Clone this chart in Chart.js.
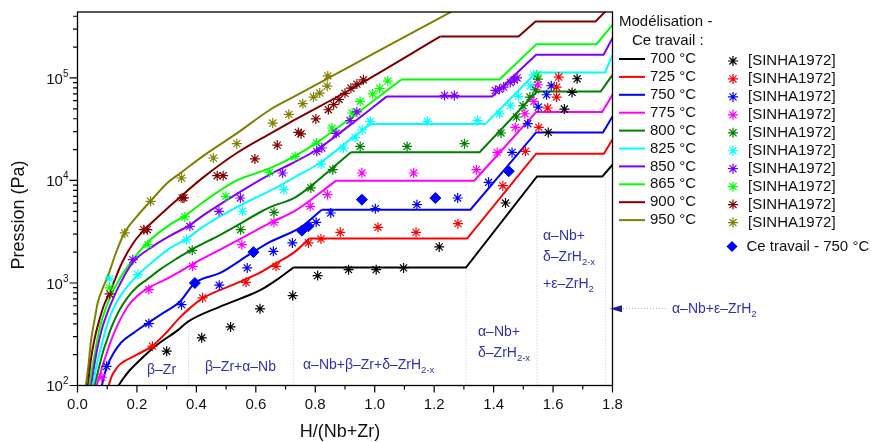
<!DOCTYPE html>
<html>
<head>
<meta charset="utf-8">
<script src="https://cdn.jsdelivr.net/npm/chart.js@4/dist/chart.umd.min.js"></script>
<style>
  html, body { margin: 0; padding: 0; background: #fff; }
  #wrap { width: 871px; height: 442px; }
</style>
</head>
<body>
<div id="wrap"><canvas id="chart" width="871" height="442"></canvas></div>
<script>
// Temperatures of the model curves and of the SINHA1972 points
const temperatures = ["700 °C", "725 °C", "750 °C", "775 °C", "800 °C", "825 °C", "850 °C", "865 °C", "900 °C", "950 °C"];
const lineColors = ["#000000", "#ff0000", "#0000ff", "#ff00ff", "#008000", "#00ffff", "#8000ff", "#00ff00", "#800000", "#808000"];

// Model curves: [H/(Nb+Zr), pressure in Pa]
const model700 = [[0.138,100],[0.155,118],[0.175,140],[0.2,166],[0.24,214],[0.277,261],[0.338,347],[0.373,422],[0.48,589],[0.55,708],[0.615,851],[0.67,1072],[0.726,1413],[1.307,1413],[1.546,10960],[1.766,10960],[1.8,14260]];
const model725 = [[0.105,100],[0.115,123],[0.13,145],[0.14,158],[0.2,200],[0.253,245],[0.3,331],[0.34,447],[0.38,575],[0.42,708],[0.524,964],[0.614,1259],[0.648,1445],[0.73,2000],[0.78,2710],[1.311,2710],[1.543,18240],[1.771,18240],[1.8,25120]];
const model750 = [[0.082,100],[0.09,126],[0.1,155],[0.12,204],[0.147,263],[0.192,331],[0.237,407],[0.29,513],[0.345,661],[0.395,1000],[0.48,1253],[0.586,1963],[0.648,2512],[0.749,3467],[0.822,5188],[1.322,5188],[1.543,29440],[1.768,29440],[1.8,42170]];
const model775 = [[0.064,100],[0.075,126],[0.085,158],[0.1,214],[0.113,275],[0.14,417],[0.169,589],[0.2,741],[0.237,891],[0.3,1096],[0.338,1259],[0.384,1514],[0.48,2118],[0.56,2818],[0.648,3855],[0.73,5012],[0.87,9954],[1.335,9954],[1.543,46450],[1.765,46450],[1.8,68550]];
const model800 = [[0.058,100],[0.07,141],[0.085,209],[0.1,282],[0.113,363],[0.14,537],[0.169,724],[0.2,912],[0.232,1072],[0.282,1380],[0.338,1758],[0.384,2118],[0.48,2951],[0.536,3631],[0.614,4898],[0.648,5495],[0.73,6761],[0.783,8710],[0.92,18880],[1.353,18880],[1.546,73790],[1.76,73790],[1.8,107200]];
const model825 = [[0.052,100],[0.06,135],[0.07,186],[0.08,240],[0.095,355],[0.113,501],[0.135,676],[0.158,851],[0.203,1202],[0.25,1585],[0.311,2188],[0.367,2692],[0.423,3548],[0.536,5495],[0.648,7943],[0.73,10720],[0.82,15140],[0.917,25120],[0.985,35480],[1.372,35480],[1.543,113200],[1.775,113200],[1.8,168300]];
const model850 = [[0.046,100],[0.055,148],[0.068,240],[0.085,380],[0.102,525],[0.113,631],[0.136,891],[0.186,1585],[0.25,2239],[0.311,2884],[0.378,3673],[0.423,4571],[0.536,7413],[0.648,11480],[0.73,15140],[0.805,19950],[0.917,34670],[1.041,66070],[1.395,66070],[1.543,168300],[1.77,168300],[1.8,244900]];
const model865 = [[0.04,100],[0.048,141],[0.057,195],[0.068,295],[0.08,417],[0.095,562],[0.113,759],[0.14,1072],[0.169,1445],[0.237,2512],[0.311,3715],[0.361,4500],[0.423,6166],[0.536,10000],[0.648,13180],[0.732,17380],[0.805,23440],[1.09,96600],[1.42,96600],[1.544,213800],[1.746,213800],[1.8,329600]];
const model900 = [[0.035,100],[0.045,178],[0.057,281],[0.074,440],[0.09,617],[0.108,800],[0.15,1585],[0.19,2512],[0.226,3311],[0.311,5623],[0.338,6607],[0.423,10720],[0.536,18540],[0.65,28840],[0.73,38900],[0.917,76740],[1.221,254100],[1.484,254100],[1.541,355600],[1.743,355600],[1.8,525000]];
const model950 = [[0.028,100],[0.035,141],[0.046,281],[0.058,447],[0.068,640],[0.085,891],[0.102,1161],[0.13,1995],[0.158,3076],[0.2,4467],[0.243,6166],[0.304,9550],[0.35,12020],[0.423,17380],[0.536,28840],[0.648,48980],[0.73,66070],[0.917,129400],[1.238,413000],[1.3,512900]];

// SINHA1972 measurements: [H/(Nb+Zr), pressure in Pa]
const sinha700 = [[0.3,216],[0.418,292],[0.515,373],[0.614,560],[0.724,753],[0.808,1180],[0.912,1349],[1.005,1349],[1.097,1403],[1.217,2249],[1.44,6026],[1.584,29440],[1.638,49770],[1.664,72280],[1.681,98200]];
const sinha725 = [[0.252,242],[0.421,716],[0.567,1016],[0.668,1455],[0.777,2460],[0.819,2692],[0.884,3119],[1.011,3491],[1.139,3119],[1.28,3793],[1.431,8892],[1.507,19230],[1.552,32960],[1.582,50930],[1.612,65160],[1.612,81470],[1.619,102100]];
const sinha750 = [[0.098,154],[0.24,402],[0.35,615],[0.477,951],[0.571,1403],[0.659,2037],[0.723,2460],[0.803,3908],[0.852,4819],[1.002,5309],[1.142,5808],[1.279,6745],[1.383,9594],[1.462,18790],[1.515,35810],[1.55,52000],[1.578,68550],[1.594,83950]];
const sinha775 = [[0.082,120],[0.24,863],[0.387,1455],[0.553,2366],[0.661,3908],[0.783,5598],[0.841,7278],[0.957,11830],[1.131,11830],[1.342,12740],[1.412,18790],[1.473,32960],[1.505,44770],[1.535,59020],[1.549,85900]];
const sinha800 = [[0.386,2084],[0.549,3311],[0.661,4887],[0.785,8453],[0.859,12740],[0.951,21480],[1.109,21480],[1.302,22860],[1.425,29040],[1.477,41590],[1.499,53580],[1.522,65160],[1.541,76740],[1.549,97500]];
const sinha825 = [[0.108,1096],[0.203,1208],[0.367,2630],[0.555,5012],[0.694,8128],[0.82,14450],[0.895,20750],[0.934,26300],[0.958,31260],[0.985,37670],[1.177,37670],[1.346,38550],[1.42,44770],[1.456,53580],[1.484,66070],[1.524,83950],[1.535,107200]];
const sinha850 = [[0.186,1690],[0.378,3573],[0.476,5000],[0.548,6745],[0.69,11830],[0.805,19230],[0.822,20750],[0.87,28840],[0.917,38460],[0.94,46770],[1.235,67610],[1.268,67610],[1.406,75510],[1.42,77620],[1.434,81470],[1.456,90360],[1.47,95500],[1.479,100000]];
const sinha865 = [[0.108,896],[0.237,2366],[0.361,4406],[0.499,7000],[0.646,11990],[0.732,17180],[0.805,23170],[0.856,32510],[0.924,45500],[0.951,59020],[0.993,69980],[1.017,78890],[1.044,93330],[1.545,107200]];
const sinha900 = [[0.108,782],[0.223,3311],[0.235,3311],[0.352,6761],[0.358,6761],[0.47,11140],[0.49,11140],[0.597,16220],[0.672,22130],[0.743,29440],[0.752,28510],[0.802,39810],[0.844,48980],[0.862,54950],[0.88,61660],[0.9,70790],[0.92,79430],[0.94,87100],[0.962,95940]];
const sinha950 = [[0.159,3076],[0.246,6266],[0.35,10570],[0.457,16560],[0.536,22860],[0.657,36310],[0.711,44160],[0.758,56100],[0.794,65160],[0.815,71290],[0.84,83180],[0.842,104700]];

// Ce travail - 750 °C
const ceTravail750 = [[0.395,1000],[0.592,2000],[0.755,3240],[0.777,3570],[0.957,6500],[1.204,6740],[1.451,12300]];

// Phase boundaries (dotted verticals from the axis up to the 700 °C curve)
const phaseBoundaries = [[0.373,422],[0.726,1413],[1.307,1413],[1.546,10960],[1.777,10960]];

// Tick labels
const xTickValues = [0, 0.2, 0.4, 0.6, 0.8, 1.0, 1.2, 1.4, 1.6, 1.8];
const yTickExponents = [2, 3, 4, 5];

const models = [model700, model725, model750, model775, model800, model825, model850, model865, model900, model950];
const sinha = [sinha700, sinha725, sinha750, sinha775, sinha800, sinha825, sinha850, sinha865, sinha900, sinha950];
const toPts = (arr) => arr.map(([x, y]) => ({ x, y }));

const FONT = '"Liberation Sans", Arial, sans-serif';
const phaseColor = "#3030b0";

const datasets = [];
phaseBoundaries.forEach(([x, top]) => {
  datasets.push({
    data: [{ x, y: 100 }, { x, y: top }],
    showLine: true,
    borderColor: "#b7bbe6",
    borderWidth: 1,
    borderDash: [1, 2],
    pointRadius: 0,
    order: 5,
  });
});
models.forEach((m, i) => {
  // smooth part up to the first plateau, straight segments afterwards
  let p = m.findIndex((pt, j) => j < m.length - 1 && m[j + 1][1] === pt[1]);
  if (p < 0) p = m.length - 1;
  datasets.push({
    label: temperatures[i],
    data: toPts(m.slice(0, p + 1)),
    showLine: true,
    cubicInterpolationMode: "monotone",
    borderColor: lineColors[i],
    borderWidth: 2,
    pointRadius: 0,
    order: 3,
  });
  if (p < m.length - 1) {
    datasets.push({
      data: toPts(m.slice(p)),
      showLine: true,
      borderColor: lineColors[i],
      borderWidth: 2,
      pointRadius: 0,
      order: 3,
    });
  }
});
sinha.forEach((s, i) => {
  datasets.push({
    label: "[SINHA1972]",
    data: toPts(s),
    showLine: false,
    pointStyle: "star",
    pointRadius: 5,
    borderColor: lineColors[i],
    backgroundColor: lineColors[i],
    borderWidth: 1.2,
    order: 1,
  });
});
datasets.push({
  label: "Ce travail - 750 °C",
  data: toPts(ceTravail750),
  showLine: false,
  pointStyle: "rectRot",
  pointRadius: 5.5,
  borderColor: "#0000ff",
  backgroundColor: "#0000ff",
  borderWidth: 1,
  order: 0,
});

// text with sub/superscripts: parts = [[text, 0 normal | 1 sub | 2 sup], ...]
function richText(ctx, x, y, parts, size) {
  let cx = x;
  ctx.textAlign = "left";
  ctx.textBaseline = "middle";
  for (const [t, k] of parts) {
    const s = k ? size * 0.68 : size;
    ctx.font = s + "px " + FONT;
    const dy = k === 1 ? size * 0.38 : k === 2 ? -size * 0.36 : 0;
    ctx.fillText(t, cx, y + dy);
    cx += ctx.measureText(t).width;
  }
  return cx - x;
}

function drawStar(ctx, x, y, r, color) {
  ctx.save();
  ctx.strokeStyle = color;
  ctx.lineWidth = 1.2;
  ctx.beginPath();
  for (let a = 0; a < 4; a++) {
    const ang = (a * Math.PI) / 4;
    ctx.moveTo(x - r * Math.cos(ang), y - r * Math.sin(ang));
    ctx.lineTo(x + r * Math.cos(ang), y + r * Math.sin(ang));
  }
  ctx.stroke();
  ctx.restore();
}

const decorations = {
  id: "decorations",
  afterDraw(chart) {
    const ctx = chart.ctx;
    const { left, right, top, bottom } = chart.chartArea;
    const xs = chart.scales.x;
    const ys = chart.scales.y;
    ctx.save();

    // frame
    ctx.strokeStyle = "#000";
    ctx.lineWidth = 1.3;
    ctx.strokeRect(left, top, right - left, bottom - top);

    // x ticks
    ctx.lineWidth = 1.2;
    ctx.beginPath();
    for (let i = 0; i <= 18; i++) {
      const px = xs.getPixelForValue(i / 10);
      ctx.moveTo(px, bottom);
      ctx.lineTo(px, bottom + (i % 2 === 0 ? 7 : 4));
    }
    // y ticks (log, with minors)
    for (let e = 2; e <= 5; e++) {
      for (let k = 1; k <= 9; k++) {
        const v = k * Math.pow(10, e);
        if (v > ys.max) break;
        const py = ys.getPixelForValue(v);
        ctx.moveTo(left, py);
        ctx.lineTo(left - (k === 1 ? 8 : 4.5), py);
      }
    }
    ctx.stroke();

    // x tick labels
    ctx.fillStyle = "#111";
    ctx.font = "15px " + FONT;
    ctx.textAlign = "center";
    ctx.textBaseline = "middle";
    xTickValues.forEach((v) => {
      ctx.fillText(v.toFixed(1), xs.getPixelForValue(v), 405);
    });

    // y tick labels 10^n
    yTickExponents.forEach((e) => {
      const py = ys.getPixelForValue(Math.pow(10, e));
      ctx.font = "10px " + FONT;
      const supW = ctx.measureText(String(e)).width;
      ctx.font = "15px " + FONT;
      const baseW = ctx.measureText("10").width;
      const x0 = 68.5 - supW - baseW;
      ctx.textAlign = "left";
      ctx.fillText("10", x0, py + 1.5);
      ctx.font = "10px " + FONT;
      ctx.fillText(String(e), x0 + baseW, py - 4);
    });

    // axis titles
    ctx.font = "18px " + FONT;
    ctx.textAlign = "center";
    ctx.fillText("H/(Nb+Zr)", 340, 432);
    ctx.save();
    ctx.translate(19, 215);
    ctx.rotate(-Math.PI / 2);
    ctx.fillText("Pression (Pa)", 0, 0);
    ctx.restore();

    // phase labels
    ctx.fillStyle = phaseColor;
    richText(ctx, 147, 370, [["β–Zr", 0]], 14);
    richText(ctx, 205, 367, [["β–Zr+α–Nb", 0]], 14);
    richText(ctx, 303, 365, [["α–Nb+β–Zr+δ–ZrH", 0], ["2-x", 1]], 14);
    richText(ctx, 478, 332, [["α–Nb+", 0]], 14);
    richText(ctx, 478, 353, [["δ–ZrH", 0], ["2-x", 1]], 14);
    richText(ctx, 543, 236, [["α–Nb+", 0]], 14);
    richText(ctx, 543, 257, [["δ–ZrH", 0], ["2-x", 1]], 14);
    richText(ctx, 543, 284, [["+ε–ZrH", 0], ["2", 1]], 14);

    // arrow towards alpha-Nb + epsilon-ZrH2
    const ay = ys.getPixelForValue(562);
    ctx.strokeStyle = "#a4acdc";
    ctx.lineWidth = 1;
    ctx.setLineDash([1, 2]);
    ctx.beginPath();
    ctx.moveTo(623, ay);
    ctx.lineTo(668, ay);
    ctx.stroke();
    ctx.setLineDash([]);
    ctx.fillStyle = "#1c1ca0";
    ctx.beginPath();
    ctx.moveTo(610, ay);
    ctx.lineTo(622, ay - 3.5);
    ctx.lineTo(622, ay + 3.5);
    ctx.closePath();
    ctx.fill();
    ctx.fillStyle = phaseColor;
    richText(ctx, 672, ay, [["α–Nb+ε–ZrH", 0], ["2", 1]], 14);

    // legend
    ctx.fillStyle = "#111";
    ctx.font = "15px " + FONT;
    ctx.textAlign = "left";
    ctx.textBaseline = "middle";
    ctx.fillText("Modélisation -", 619, 22);
    ctx.fillText("Ce travail :", 632, 41);
    temperatures.forEach((t, i) => {
      const ly = 59 + i * 17.9;
      ctx.strokeStyle = lineColors[i];
      ctx.lineWidth = 2;
      ctx.beginPath();
      ctx.moveTo(619, ly);
      ctx.lineTo(645, ly);
      ctx.stroke();
      ctx.fillStyle = "#111";
      ctx.fillText(t, 650, ly);
      const my = 61 + i * 17.95;
      drawStar(ctx, 733, my, 5, lineColors[i]);
      ctx.fillText("[SINHA1972]", 748, my);
    });
    // diamond legend
    const dy = 246.5;
    ctx.fillStyle = "#0000ff";
    ctx.beginPath();
    ctx.moveTo(732, dy - 5.5);
    ctx.lineTo(737.5, dy);
    ctx.lineTo(732, dy + 5.5);
    ctx.lineTo(726.5, dy);
    ctx.closePath();
    ctx.fill();
    ctx.fillStyle = "#111";
    ctx.fillText("Ce travail - 750 °C", 746.5, dy);

    ctx.restore();
  },
};

new Chart(document.getElementById("chart"), {
  type: "scatter",
  data: { datasets },
  options: {
    responsive: false,
    animation: false,
    devicePixelRatio: 1,
    events: [],
    layout: { padding: { left: 77.5, right: 258.5, top: 12, bottom: 56.5 } },
    plugins: { legend: { display: false }, tooltip: { enabled: false } },
    scales: {
      x: { type: "linear", min: 0, max: 1.8, display: false },
      y: { type: "logarithmic", min: 100, max: 440000, display: false },
    },
  },
  plugins: [decorations],
});
</script>
</body>
</html>
